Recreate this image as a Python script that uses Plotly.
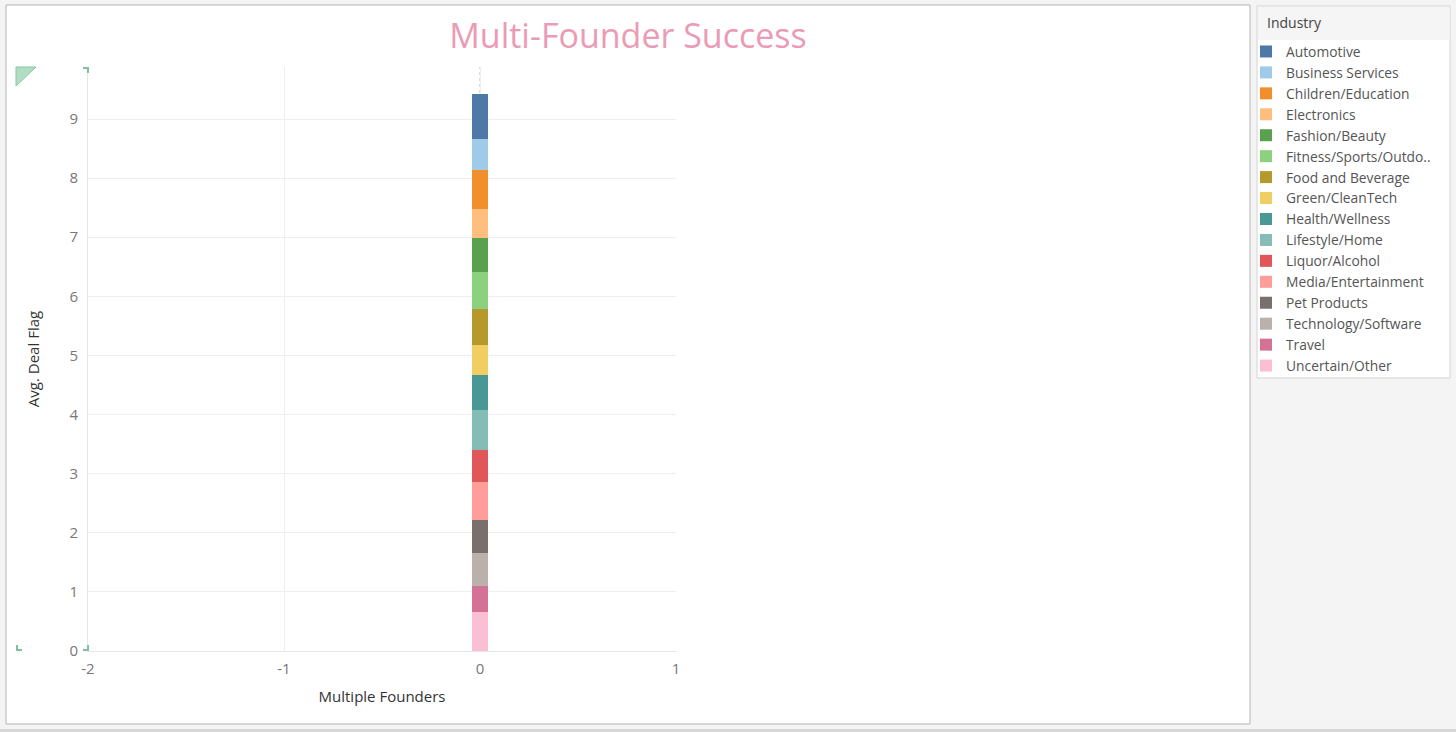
import plotly.graph_objects as go

# ---- data ----
industries = [
    "Automotive", "Business Services", "Children/Education", "Electronics",
    "Fashion/Beauty", "Fitness/Sports/Outdo..", "Food and Beverage",
    "Green/CleanTech", "Health/Wellness", "Lifestyle/Home", "Liquor/Alcohol",
    "Media/Entertainment", "Pet Products", "Technology/Software", "Travel",
    "Uncertain/Other",
]
avg_deal_flag = [0.76, 0.53, 0.66, 0.49, 0.58, 0.62, 0.61, 0.51,
                 0.59, 0.68, 0.54, 0.64, 0.56, 0.56, 0.44, 0.66]
colors = ["#4e79a7", "#a0cbe8", "#f28e2b", "#ffbe7d", "#59a14f", "#8cd17d",
          "#b6992d", "#f1ce63", "#499894", "#86bcb6", "#e15759", "#ff9d9a",
          "#79706e", "#bab0ac", "#d37295", "#fabfd2"]
multiple_founders = 0
x_ticks = [-2, -1, 0, 1]
x_tick_labels = ["-2", "-1", "0", "1"]
y_ticks = list(range(10))

W, H = 1456, 732
L, R, T, B = 88, 676, 67, 651  # plot area in pixels
PW, PH = R - L, B - T


def px(x):
    return (x - L) / PW


def py(y):
    return (B - y) / PH


FONT = "Open Sans"

fig = go.Figure()
# bottom of the stack is the last industry; add in reverse
for name, val, col in reversed(list(zip(industries, avg_deal_flag, colors))):
    fig.add_trace(go.Bar(
        x=[multiple_founders], y=[val], name=name,
        marker=dict(color=col, line=dict(width=0)),
        width=0.077,
        hovertemplate=name + "<br>Avg. Deal Flag: %{y:.2f}<extra></extra>",
    ))

shapes = [
    # worksheet panel
    dict(type="rect", xref="paper", yref="paper", x0=px(6), x1=px(1250),
         y0=py(724), y1=py(5), fillcolor="white",
         line=dict(color="#b4b4b4", width=1), layer="below"),
    # bottom strip
    dict(type="rect", xref="paper", yref="paper", x0=px(0), x1=px(1456),
         y0=py(732), y1=py(729), fillcolor="#d6d6d6", line=dict(width=0),
         layer="below"),
    # legend box
    dict(type="rect", xref="paper", yref="paper", x0=px(1257), x1=px(1450),
         y0=py(378), y1=py(6), fillcolor="white",
         line=dict(color="#d4d4d4", width=1), layer="below"),
    dict(type="rect", xref="paper", yref="paper", x0=px(1258), x1=px(1449.5),
         y0=py(40), y1=py(7), fillcolor="#f5f5f5", line=dict(width=0),
         layer="below"),
    # dotted zero line
    dict(type="line", xref="x", yref="paper", x0=0, x1=0, y0=0, y1=1,
         line=dict(color="#b8b8b8", width=1, dash="dot"), layer="between"),
    # selection triangle
    dict(type="path", xref="paper", yref="paper",
         path=f"M{px(16)},{py(67)} L{px(36)},{py(67)} L{px(16)},{py(86)} Z",
         fillcolor="#b3dcc4", line=dict(color="#86c7a2", width=1)),
    # corner brackets
    dict(type="path", xref="paper", yref="paper",
         path=f"M{px(83)},{py(68)} L{px(88)},{py(68)} L{px(88)},{py(73)}",
         line=dict(color="#7fc2a0", width=2)),
    dict(type="path", xref="paper", yref="paper",
         path=f"M{px(17)},{py(645)} L{px(17)},{py(650)} L{px(22)},{py(650)}",
         line=dict(color="#7fc2a0", width=2)),
    dict(type="path", xref="paper", yref="paper",
         path=f"M{px(83)},{py(650)} L{px(88)},{py(650)} L{px(88)},{py(645)}",
         line=dict(color="#7fc2a0", width=2)),
]

annotations = [
    dict(text="Industry", xref="paper", yref="paper", x=px(1265), y=py(23),
         xanchor="left", yanchor="middle", showarrow=False,
         font=dict(family=FONT, size=14, color="#444444")),
]

fig.update_layout(
    width=W, height=H,
    margin=dict(l=L, r=W - R, t=T, b=H - B, pad=0),
    paper_bgcolor="#f4f4f4",
    plot_bgcolor="white",
    barmode="stack",
    bargap=0,
    font=dict(family=FONT, size=15, color="#666666"),
    title=dict(text="Multi-Founder Success", xref="container",
               x=628 / W, xanchor="center",
               yref="container", y=1 - 36 / H, yanchor="middle",
               font=dict(family=FONT, size=34, color="#eb9bb5")),
    xaxis=dict(
        range=[-2, 1], tickvals=x_ticks, ticktext=x_tick_labels,
        showgrid=True, gridcolor="#eeeeee",
        zeroline=False, showline=True, linecolor="#e6e6e6",
        ticks="", ticklabelstandoff=4,
        tickfont=dict(size=15, color="#777777"),
        title=dict(text="Multiple Founders", standoff=14,
                   font=dict(size=15, color="#333333")),
        fixedrange=True,
    ),
    yaxis=dict(
        range=[0, 9.88], tickvals=y_ticks, showgrid=True, gridcolor="#eeeeee",
        zeroline=False, showline=True, linecolor="#e6e6e6",
        ticks="", ticklabelstandoff=6,
        tickfont=dict(size=15, color="#777777"),
        title=dict(text="Avg. Deal Flag", standoff=26,
                   font=dict(size=15, color="#333333")),
        fixedrange=True,
    ),
    legend=dict(
        x=px(1246), xanchor="left", y=py(36), yanchor="top",
        traceorder="reversed", bgcolor="rgba(0,0,0,0)", borderwidth=0,
        font=dict(family=FONT, size=13.8, color="#555555"),
        itemclick=False, itemdoubleclick=False,
    ),
    annotations=annotations,
    shapes=shapes,
    showlegend=True,
)

fig.write_html("out.html")
